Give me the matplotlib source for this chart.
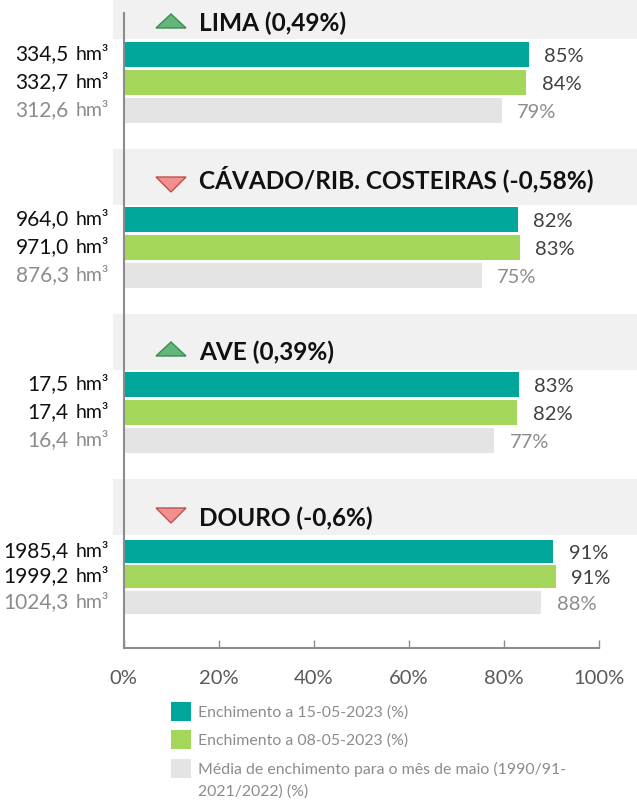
import matplotlib
matplotlib.use('Agg')
import matplotlib.pyplot as plt
from matplotlib.patches import Rectangle, Polygon

plt.rcParams['font.family'] = ['Lato', 'DejaVu Sans']

basins = ['LIMA (0,49%)', 'CÁVADO/RIB. COSTEIRAS (-0,58%)', 'AVE (0,39%)', 'DOURO (-0,6%)']
trend = ['up', 'down', 'up', 'down']
fill_15 = [85.3, 83.0, 83.2, 90.4]
fill_08 = [84.7, 83.4, 82.8, 91.0]
fill_avg = [79.6, 75.4, 78.0, 87.9]
label_15 = ['85%', '82%', '83%', '91%']
label_08 = ['84%', '83%', '82%', '91%']
label_avg = ['79%', '75%', '77%', '88%']
vol_15 = ['334,5', '964,0', '17,5', '1985,4']
vol_08 = ['332,7', '971,0', '17,4', '1999,2']
vol_avg = ['312,6', '876,3', '16,4', '1024,3']
legend_labels = ['Enchimento a 15-05-2023 (%)', 'Enchimento a 08-05-2023 (%)',
                 'Média de enchimento para o mês de maio (1990/91-\n2021/2022) (%)']

TEAL = '#00A699'
GREEN = '#A5D65C'
GREY = '#E4E4E4'
W, H = 637, 810
X0, X1 = 123.7, 598.7
PX = (X1 - X0) / 100

fig = plt.figure(figsize=(W / 100, H / 100), dpi=100)
ax = fig.add_axes([X0 / W, 1 - 648 / H, (X1 - X0) / W, 635 / H])
ax.set_xlim(0, 100)
ax.set_ylim(648, 13)  # y runs in pixels from the top

# header bands behind the bars
bands = [(0, 39), (149, 205), (314, 370), (479, 535)]
for top, bottom in bands:
    fig.patches.append(Rectangle((113 / W, 1 - bottom / H), 524 / W, (bottom - top) / H,
                                 transform=fig.transFigure, facecolor='#F1F1F1', edgecolor='none', zorder=-5))

tops = [[42, 70, 98], [207, 235, 263], [372, 400, 428], [540, 565, 591]]
bar_h = [25, 25, 25, 23]
title_y = [23, 179, 352, 518]
tri_top = [14, 177, 342, 508]
colors = [TEAL, GREEN, GREY]
vol_colors = ['#111111', '#111111', '#8C8C8C']
pct_colors = ['#404040', '#404040', '#8C8C8C']

for i in range(4):
    vals = [fill_15[i], fill_08[i], fill_avg[i]]
    pcts = [label_15[i], label_08[i], label_avg[i]]
    vols = [vol_15[i], vol_08[i], vol_avg[i]]
    for j in range(3):
        y = tops[i][j] + bar_h[i] / 2
        ax.barh(y, vals[j], height=bar_h[i], color=colors[j], zorder=2)
        ax.annotate(pcts[j], (vals[j], y + 2), xytext=(15.5, 0), textcoords='offset pixels',
                    va='center', ha='left', fontsize=14.5, color=pct_colors[j])
        ax.annotate(vols[j], (0, y), xytext=(-55, 0), textcoords='offset pixels',
                    va='center', ha='right', fontsize=15, color=vol_colors[j], annotation_clip=False)
        ax.annotate('hm³', (0, y), xytext=(-48, 0), textcoords='offset pixels',
                    va='center', ha='left', fontsize=14, color=vol_colors[j], annotation_clip=False)

    # trend triangle and basin name
    t = tri_top[i]
    xs = (156 - X0) / PX
    xe = (186 - X0) / PX
    xm = (xs + xe) / 2
    if trend[i] == 'up':
        pts = [(xs, t + 14), (xe, t + 14), (xm, t)]
        face, edge = '#63B77A', '#3F8A55'
    else:
        pts = [(xs, t), (xe, t), (xm, t + 15)]
        face, edge = '#F58F8F', '#B85450'
    ax.add_patch(Polygon(pts, closed=True, facecolor=face, edgecolor=edge, lw=1, clip_on=False, zorder=3))
    ax.text((199 - X0) / PX, title_y[i], basins[i], fontsize=17.6, fontweight='bold', color='#111111',
            va='center', ha='left', clip_on=False)

for s in ['top', 'right']:
    ax.spines[s].set_visible(False)
for s in ['left', 'bottom']:
    ax.spines[s].set_color('#8C8C8C')
    ax.spines[s].set_linewidth(1.5)
ax.set_yticks([])
ax.set_xticks(range(0, 101, 20))
ax.set_xticklabels(['0%', '20%', '40%', '60%', '80%', '100%'], fontsize=14.5, color='#595959')
ax.tick_params(axis='x', direction='in', length=5.5, width=1, color='#8C8C8C', pad=16)
ax.patch.set_alpha(0)

# legend drawn by hand so the swatches line up with the wrapped last entry
leg_y = [702, 730, 759]
for lab, c, y in zip(legend_labels, colors, leg_y):
    fig.patches.append(Rectangle((171 / W, 1 - (y + 19) / H), 20 / W, 19 / H, transform=fig.transFigure,
                                 facecolor=c, edgecolor='none'))
    fig.text(198 / W, 1 - (y + 3) / H, lab, fontsize=11.4, color='#8C8C8C', va='top', ha='left', linespacing=1.62)

fig.savefig('out.png', dpi=100)
